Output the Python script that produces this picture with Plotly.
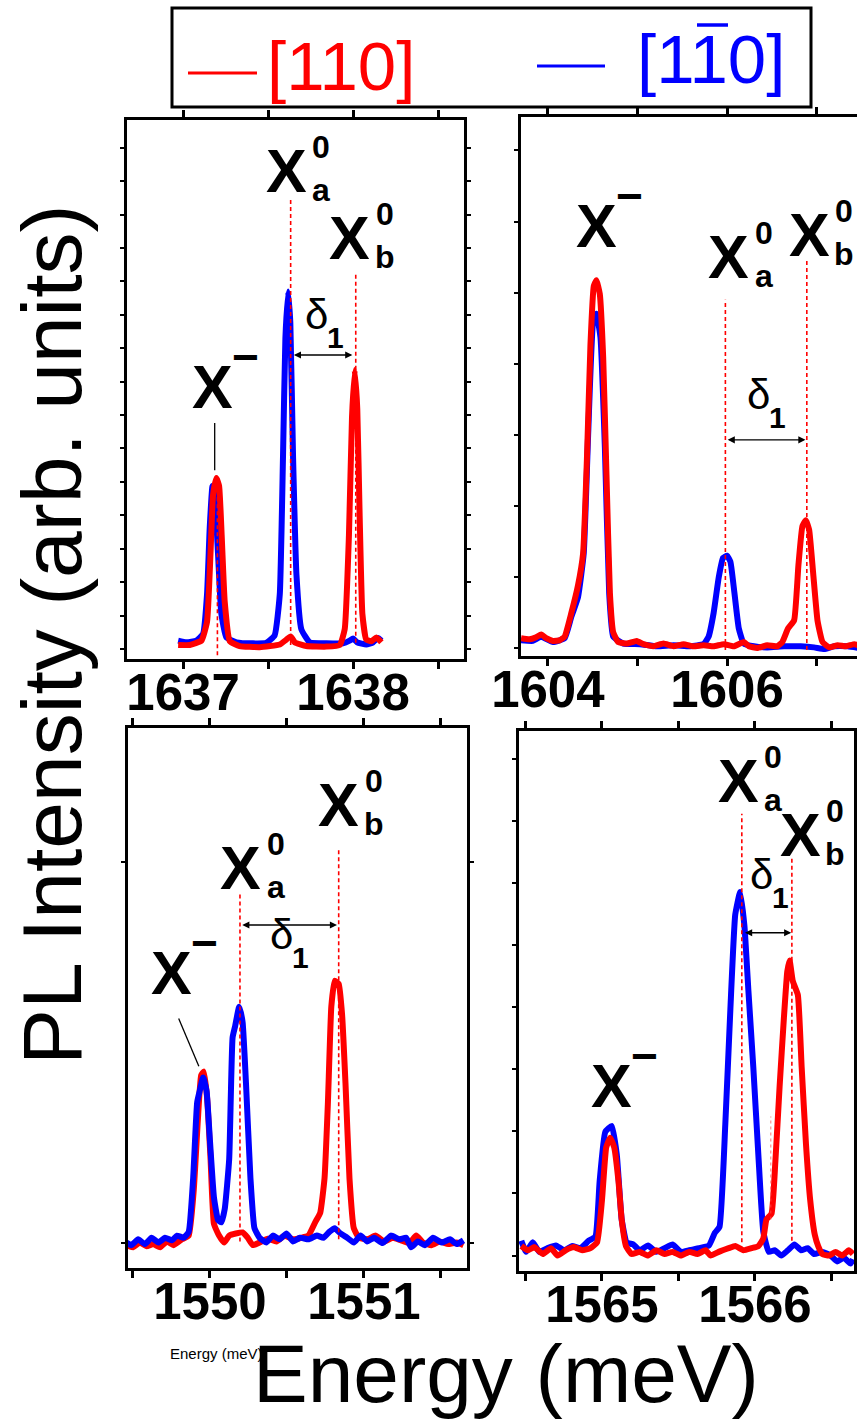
import plotly.graph_objects as go

W, H = 857, 1420
RED, BLUE = "#ff0000", "#0000ff"
SANS = "Liberation Sans, Arial, Helvetica, sans-serif"

# ---------------------------------------------------------------------------
# PL spectra: photon energy (meV) and intensity (arb. units) for the two
# linear polarisations [110] (red) and [1-10] (blue)
# ---------------------------------------------------------------------------

# dot A (1637-1638 meV)
A_E_110 = [1636.971, 1637.039, 1637.108, 1637.141, 1637.161, 1637.176, 1637.196, 1637.212,
           1637.227, 1637.245, 1637.275, 1637.333, 1637.451, 1637.569, 1637.608, 1637.633,
           1637.657, 1637.725, 1637.843, 1637.922, 1637.951, 1637.976, 1637.994, 1638.010,
           1638.025, 1638.039, 1638.055, 1638.078, 1638.108, 1638.137, 1638.167]
A_I_110 = [2.6, 2.6, 3.4, 6.9, 19.3, 30.3, 33.6, 32.1,
           23.0, 10.6, 3.3, 2.4, 2.2, 2.7, 3.6, 4.2,
           3.1, 2.4, 2.3, 2.6, 5.5, 23.0, 44.9, 53.6,
           46.4, 26.6, 8.4, 3.6, 3.3, 4.0, 3.1]
A_E_1M10 = [1636.971, 1637.020, 1637.078, 1637.118, 1637.141, 1637.157, 1637.173, 1637.186,
            1637.206, 1637.225, 1637.255, 1637.314, 1637.412, 1637.490, 1637.539, 1637.569,
            1637.588, 1637.602, 1637.618, 1637.631, 1637.647, 1637.667, 1637.696, 1637.745,
            1637.843, 1637.941, 1637.980, 1638.000, 1638.024, 1638.078, 1638.118, 1638.147,
            1638.167]
A_I_1M10 = [3.4, 3.1, 3.4, 4.7, 12.0, 24.5, 32.1, 30.3,
            19.3, 8.4, 4.0, 3.1, 2.9, 3.0, 4.4, 12.0,
            37.6, 59.5, 68.2, 62.4, 37.6, 15.7, 5.5, 3.1,
            2.9, 2.9, 3.4, 3.8, 3.1, 2.7, 3.1, 3.9,
            3.4]

# dot B (1604-1607 meV)
B_E_110 = [1603.701, 1603.794, 1603.869, 1603.925, 1603.981, 1604.056, 1604.131, 1604.187,
           1604.262, 1604.336, 1604.393, 1604.437, 1604.475, 1604.512, 1604.542, 1604.579,
           1604.617, 1604.654, 1604.692, 1604.729, 1604.785, 1604.879, 1604.991, 1605.065,
           1605.178, 1605.290, 1605.402, 1605.514, 1605.626, 1605.738, 1605.850, 1605.963,
           1606.075, 1606.187, 1606.243, 1606.336, 1606.449, 1606.561, 1606.617, 1606.680,
           1606.748, 1606.796, 1606.841, 1606.879, 1606.916, 1606.961, 1607.009, 1607.065,
           1607.140, 1607.234, 1607.327, 1607.421, 1607.462]
B_I_110 = [3.3, 3.1, 3.5, 4.0, 3.3, 2.8, 2.9, 3.6,
           8.0, 13.1, 19.0, 37.2, 57.7, 68.6, 69.7, 67.2,
           55.5, 33.6, 11.7, 4.4, 2.6, 2.3, 2.8, 2.2,
           1.8, 2.3, 1.8, 2.2, 1.8, 2.0, 1.8, 2.2,
           1.8, 2.6, 1.8, 1.5, 2.0, 1.8, 2.6, 5.1,
           6.6, 16.8, 24.1, 25.2, 23.4, 15.3, 6.6, 2.6,
           1.6, 2.0, 1.8, 2.2, 2.0]
B_E_1M10 = [1603.701, 1603.832, 1603.925, 1604.056, 1604.187, 1604.262, 1604.336, 1604.400,
            1604.449, 1604.505, 1604.542, 1604.587, 1604.636, 1604.684, 1604.729, 1604.841,
            1605.028, 1605.215, 1605.402, 1605.589, 1605.738, 1605.794, 1605.850, 1605.907,
            1605.955, 1606.000, 1606.037, 1606.082, 1606.131, 1606.187, 1606.299, 1606.449,
            1606.636, 1606.822, 1606.972, 1607.084, 1607.196, 1607.346, 1607.462]
B_I_1M10 = [2.9, 2.8, 3.6, 2.6, 3.3, 7.3, 10.9, 19.0,
            40.9, 62.0, 63.5, 59.1, 38.7, 11.7, 3.6, 2.3,
            2.2, 1.8, 2.0, 1.8, 2.2, 3.6, 8.0, 14.6,
            18.2, 18.6, 17.5, 11.7, 5.1, 2.3, 1.8, 1.6,
            1.8, 1.8, 1.6, 1.3, 1.8, 1.8, 1.5]

# dot C (1550-1551 meV)
C_E_110 = [1549.457, 1549.501, 1549.545, 1549.589, 1549.632, 1549.676, 1549.720, 1549.764,
           1549.818, 1549.862, 1549.895, 1549.921, 1549.943, 1549.961, 1549.982, 1550.004,
           1550.026, 1550.059, 1550.092, 1550.125, 1550.168, 1550.212, 1550.245, 1550.278,
           1550.322, 1550.376, 1550.431, 1550.486, 1550.540, 1550.595, 1550.639, 1550.683,
           1550.716, 1550.744, 1550.766, 1550.788, 1550.810, 1550.836, 1550.858, 1550.880,
           1550.906, 1550.934, 1550.967, 1551.022, 1551.077, 1551.131, 1551.186, 1551.241,
           1551.295, 1551.339, 1551.383, 1551.438, 1551.492, 1551.547, 1551.602, 1551.646]
C_I_110 = [4.3, 3.9, 4.8, 4.1, 4.5, 3.9, 5.0, 4.3,
           5.4, 6.1, 14.7, 27.6, 36.3, 37.0, 31.9, 20.5,
           8.3, 6.1, 4.8, 6.1, 6.5, 6.7, 5.7, 4.3,
           4.8, 5.5, 5.0, 6.1, 5.4, 5.7, 6.1, 8.6,
           10.4, 16.9, 31.2, 49.2, 54.1, 53.5, 47.7, 34.8,
           16.9, 7.5, 5.7, 5.4, 6.1, 5.0, 5.7, 5.2,
           4.7, 6.1, 4.8, 4.3, 5.0, 4.5, 4.8, 4.3]
C_E_1M10 = [1549.457, 1549.490, 1549.534, 1549.578, 1549.621, 1549.665, 1549.709, 1549.753,
            1549.786, 1549.829, 1549.862, 1549.891, 1549.917, 1549.934, 1549.956, 1549.978,
            1550.000, 1550.026, 1550.053, 1550.074, 1550.096, 1550.125, 1550.147, 1550.164,
            1550.190, 1550.212, 1550.234, 1550.263, 1550.289, 1550.322, 1550.365, 1550.409,
            1550.453, 1550.497, 1550.540, 1550.584, 1550.639, 1550.694, 1550.737, 1550.775,
            1550.810, 1550.847, 1550.891, 1550.934, 1550.978, 1551.022, 1551.066, 1551.120,
            1551.175, 1551.230, 1551.274, 1551.306, 1551.350, 1551.394, 1551.449, 1551.504,
            1551.558, 1551.602, 1551.646]
C_I_1M10 = [4.8, 4.3, 5.4, 4.5, 5.7, 4.8, 5.7, 5.2,
            6.1, 5.7, 6.8, 16.9, 31.2, 33.4, 35.9, 33.4,
            24.0, 13.3, 9.0, 8.6, 11.1, 20.5, 43.4, 45.6,
            49.2, 46.3, 34.8, 16.9, 7.5, 5.7, 4.8, 6.1,
            5.4, 6.5, 5.0, 5.7, 5.4, 6.1, 5.7, 6.8,
            7.5, 6.5, 5.7, 4.8, 6.1, 5.0, 5.7, 4.7,
            6.1, 5.4, 5.7, 3.9, 5.0, 4.3, 5.7, 4.8,
            5.4, 4.5, 5.2]

# dot D (1565-1566 meV)
D_E_110 = [1564.473, 1564.516, 1564.559, 1564.613, 1564.667, 1564.710, 1564.763, 1564.817,
           1564.871, 1564.925, 1564.968, 1565.000, 1565.028, 1565.054, 1565.080, 1565.108,
           1565.129, 1565.157, 1565.194, 1565.247, 1565.301, 1565.355, 1565.409, 1565.462,
           1565.516, 1565.570, 1565.624, 1565.677, 1565.710, 1565.763, 1565.828, 1565.871,
           1565.925, 1565.978, 1566.022, 1566.054, 1566.075, 1566.108, 1566.133, 1566.161,
           1566.189, 1566.211, 1566.226, 1566.247, 1566.280, 1566.305, 1566.333, 1566.361,
           1566.391, 1566.413, 1566.441, 1566.484, 1566.527, 1566.570, 1566.613, 1566.640]
D_I_110 = [4.7, 3.9, 4.5, 3.2, 4.3, 2.9, 3.9, 4.5,
           3.9, 4.3, 5.4, 13.3, 23.3, 25.1, 23.3, 16.9,
           9.7, 4.7, 3.2, 3.6, 2.9, 3.9, 3.2, 3.6,
           2.9, 3.6, 3.2, 3.9, 2.9, 3.6, 4.3, 4.7,
           3.9, 4.3, 4.7, 6.1, 9.7, 10.8, 20.5, 34.8,
           47.7, 56.4, 58.5, 54.6, 52.0, 38.4, 24.0, 13.3,
           6.8, 4.7, 3.2, 2.9, 3.6, 2.9, 3.9, 3.2]
D_E_1M10 = [1564.473, 1564.505, 1564.548, 1564.591, 1564.645, 1564.699, 1564.753, 1564.806,
            1564.860, 1564.914, 1564.957, 1564.985, 1565.022, 1565.065, 1565.097, 1565.129,
            1565.161, 1565.204, 1565.247, 1565.301, 1565.355, 1565.409, 1565.462, 1565.516,
            1565.570, 1565.634, 1565.699, 1565.738, 1565.768, 1565.806, 1565.839, 1565.871,
            1565.903, 1565.931, 1565.957, 1565.989, 1566.022, 1566.054, 1566.090, 1566.129,
            1566.172, 1566.215, 1566.258, 1566.301, 1566.344, 1566.387, 1566.441, 1566.495,
            1566.538, 1566.581, 1566.624, 1566.640]
D_I_1M10 = [5.7, 3.6, 5.4, 3.6, 4.3, 4.8, 3.9, 4.7,
            4.3, 5.7, 6.5, 16.9, 26.2, 27.3, 21.9, 9.7,
            5.4, 5.0, 3.9, 4.8, 3.6, 4.3, 5.0, 3.6,
            3.9, 4.3, 4.8, 7.2, 8.3, 27.6, 49.2, 67.1,
            71.4, 65.0, 52.8, 38.4, 21.9, 7.5, 3.6, 3.9,
            2.9, 3.9, 5.0, 3.9, 4.3, 3.2, 3.6, 2.9,
            1.8, 2.5, 1.4, 2.2]

# ---------------------------------------------------------------------------
# Peak assignments: guide lines, labels and the splitting delta_1
# ---------------------------------------------------------------------------
A_GUIDE_E, A_GUIDE_TOP, A_GUIDE_BOT = [1637.202, 1637.633, 1638.016], [30.0, 85.4, 71.5], [0.7, 2.6, 3.0]
A_LABEL_E, A_LABEL_I = [1637.176, 1637.608, 1637.980], [50.4, 90.5, 78.1]
A_SPLIT = [1637.643, 1637.996, 56.4]
A_DELTA_AT = [1637.784, 64.0]
A_LEADER = [1637.186, 43.8, 1637.186, 35.0]

B_GUIDE_E, B_GUIDE_TOP, B_GUIDE_BOT = [1605.981, 1606.890], [66.1, 73.4], [1.1, 1.1]
B_LABEL_E, B_LABEL_I = [1604.542, 1606.020, 1606.916], [79.7, 74.1, 78.1]
B_SPLIT = [1605.990, 1606.875, 40.1]
B_DELTA_AT = [1606.355, 48.5]
B_LEADER = []

C_GUIDE_E, C_GUIDE_TOP, C_GUIDE_BOT = [1550.195, 1550.836], [70.7, 79.0], [5.0, 5.4]
C_LABEL_E, C_LABEL_I = [1549.753, 1550.200, 1550.836], [55.6, 75.4, 87.2]
C_SPLIT = [1550.200, 1550.825, 64.6]
C_DELTA_AT = [1550.464, 62.8]
C_LEADER = [1549.797, 47.0, 1549.928, 38.0]

D_GUIDE_E, D_GUIDE_TOP, D_GUIDE_BOT = [1565.914, 1566.241], [86.1, 77.9], [5.4, 5.7]
D_FAINT_E, D_FAINT_TOP, D_FAINT_BOT = [1566.103], [29.1], [9.7]
D_LABEL_E, D_LABEL_I = [1565.065, 1565.892, 1566.295], [34.8, 92.2, 82.2]
D_SPLIT = [1565.925, 1566.237, 63.7]
D_DELTA_AT = [1566.043, 74.7]
D_LEADER = []

LABEL_SUP = ["\u2212", "0", "0"]
LABEL_SUB = ["", "a", "b"]

# x-axis ranges and labelled ticks
A_XRANGE, A_XTICKS = [1636.67, 1638.653], [1637, 1638]
B_XRANGE, B_XTICKS = [1603.70, 1607.45], [1604, 1606]
C_XRANGE, C_XTICKS = [1549.468, 1551.669], [1550, 1551]
D_XRANGE, D_XTICKS = [1564.458, 1566.647], [1565, 1566]

fig = go.Figure()


def px_x(p):
    return p / W


def px_y(p):
    return 1 - p / H


def note(**kw):
    kw.setdefault("xanchor", "center")
    kw.setdefault("yanchor", "middle")
    kw.setdefault("showarrow", False)
    return kw


panels = [
    dict(ax="", dom_x=(127, 464), dom_y=(120, 659), yr=[0, 100], xr=A_XRANGE, xt=A_XTICKS, minor=0.5,
         ytick0=1.86, ydtick=6.2, right=True,
         e110=A_E_110, i110=A_I_110, e1m10=A_E_1M10, i1m10=A_I_1M10, red_on_top=True,
         guide=(A_GUIDE_E, A_GUIDE_TOP, A_GUIDE_BOT), label=(A_LABEL_E, A_LABEL_I, LABEL_SUP, LABEL_SUB),
         split=A_SPLIT, delta=A_DELTA_AT, leader=A_LEADER),
    dict(ax="2", dom_x=(521, 857), dom_y=(117, 656), yr=[0, 100], xr=B_XRANGE, xt=B_XTICKS, minor=1,
         ytick0=1.4, ydtick=13.2, right=False,
         e110=B_E_110, i110=B_I_110, e1m10=B_E_1M10, i1m10=B_I_1M10, red_on_top=True,
         guide=(B_GUIDE_E, B_GUIDE_TOP, B_GUIDE_BOT), label=(B_LABEL_E, B_LABEL_I, LABEL_SUP, LABEL_SUB),
         split=B_SPLIT, delta=B_DELTA_AT, leader=B_LEADER),
    dict(ax="3", dom_x=(128, 467), dom_y=(728, 1268), yr=[0, 101.7], xr=C_XRANGE, xt=C_XTICKS, minor=0.5,
         ytick0=4.7, ydtick=71.8, right=True,
         e110=C_E_110, i110=C_I_110, e1m10=C_E_1M10, i1m10=C_I_1M10, red_on_top=False,
         guide=(C_GUIDE_E, C_GUIDE_TOP, C_GUIDE_BOT), label=(C_LABEL_E, C_LABEL_I, LABEL_SUP, LABEL_SUB),
         split=C_SPLIT, delta=C_DELTA_AT, leader=C_LEADER),
    dict(ax="4", dom_x=(519, 854), dom_y=(731, 1271), yr=[0, 101.7], xr=D_XRANGE, xt=D_XTICKS, minor=0.5,
         ytick0=2.9, ydtick=11.7, right=True,
         e110=D_E_110, i110=D_I_110, e1m10=D_E_1M10, i1m10=D_I_1M10, red_on_top=True,
         guide=(D_GUIDE_E, D_GUIDE_TOP, D_GUIDE_BOT), label=(D_LABEL_E, D_LABEL_I, LABEL_SUP, LABEL_SUB),
         split=D_SPLIT, delta=D_DELTA_AT, leader=D_LEADER),
]

shapes, annotations = [], []
layout_axes = {}

for p in panels:
    xa, ya = "x" + p["ax"], "y" + p["ax"]
    red = go.Scatter(x=p["e110"], y=p["i110"], mode="lines",
                     line=dict(color=RED, width=6, shape="spline", smoothing=0.4),
                     xaxis=xa, yaxis=ya, showlegend=False, hoverinfo="skip")
    blue = go.Scatter(x=p["e1m10"], y=p["i1m10"], mode="lines",
                      line=dict(color=BLUE, width=6, shape="spline", smoothing=0.4),
                      xaxis=xa, yaxis=ya, showlegend=False, hoverinfo="skip")
    for tr in ([blue, red] if p["red_on_top"] else [red, blue]):
        fig.add_trace(tr)

    # axes
    layout_axes["xaxis" + p["ax"]] = dict(
        domain=[px_x(p["dom_x"][0]), px_x(p["dom_x"][1])], anchor=ya, range=p["xr"],
        tickmode="array", tickvals=p["xt"], ticktext=[str(v) for v in p["xt"]],
        ticks="outside", ticklen=7, tickwidth=3, tickcolor="black",
        minor=dict(dtick=p["minor"], tick0=p["xt"][0], ticks="outside", ticklen=7, tickwidth=3,
                   tickcolor="black", showgrid=False),
        showline=True, linewidth=3, linecolor="black", mirror="ticks",
        showgrid=False, zeroline=False, automargin=False, ticklabelstandoff=-20,
        tickfont=dict(family=SANS, size=51, color="black", weight="bold"),
    )
    layout_axes["yaxis" + p["ax"]] = dict(
        domain=[px_y(p["dom_y"][1]), px_y(p["dom_y"][0])], anchor=xa, range=p["yr"],
        tickmode="linear", tick0=p["ytick0"], dtick=p["ydtick"], showticklabels=False,
        ticks="outside", ticklen=4, tickwidth=2, tickcolor="black",
        showline=True, linewidth=3, linecolor="black", mirror="ticks" if p["right"] else False,
        showgrid=False, zeroline=False, automargin=False,
    )

    # dashed guides from labels to peaks
    ge, gt, gb = p["guide"]
    for e, t, b in zip(ge, gt, gb):
        shapes.append(dict(type="line", xref=xa, yref=ya, x0=e, x1=e, y0=b, y1=t,
                           line=dict(color=RED, width=1.6, dash="4px,3px")))

    # peak labels X^-, X_a^0, X_b^0
    le, li, lsup, lsub = p["label"]
    for e, v, sup, sub in zip(le, li, lsup, lsub):
        annotations.append(note(x=e, y=v, xref=xa, yref=ya, text="<b>X</b>",
                                font=dict(family=SANS, size=61, color="black")))
        if sup == "\u2212":
            annotations.append(note(x=e, y=v, xref=xa, yref=ya, text="<b>\u2212</b>",
                                    xshift=33, yshift=30, font=dict(family=SANS, size=46, color="black")))
        else:
            annotations.append(note(x=e, y=v, xref=xa, yref=ya, text="<b>%s</b>" % sup,
                                    xshift=35, yshift=24, font=dict(family=SANS, size=32, color="black")))
            annotations.append(note(x=e, y=v, xref=xa, yref=ya, text="<b>%s</b>" % sub,
                                    xshift=35, yshift=-19, font=dict(family=SANS, size=32, color="black")))

    # splitting arrow delta_1
    e0, e1, lvl = p["split"]
    annotations.append(dict(x=e1, y=lvl, ax=e0, ay=lvl, xref=xa, yref=ya, axref=xa, ayref=ya,
                            text="", showarrow=True, arrowhead=2, arrowside="end+start",
                            arrowsize=1.1, arrowwidth=1.3, arrowcolor="black", standoff=0, startstandoff=0))
    dx, dy = p["delta"]
    annotations.append(note(x=dx, y=dy, xref=xa, yref=ya, text="\u03b4",
                            font=dict(family=SANS, size=42, color="black")))
    annotations.append(note(x=dx, y=dy, xref=xa, yref=ya, text="<b>1</b>",
                            xshift=19, yshift=-23, font=dict(family=SANS, size=30, color="black")))

    # leader line from X^- label to its peak
    if p["leader"]:
        x0, y0, x1, y1 = p["leader"]
        shapes.append(dict(type="line", xref=xa, yref=ya, x0=x0, y0=y0, x1=x1, y1=y1,
                           line=dict(color="black", width=1.3)))

# faint extra guide in dot D
for e, t, b in zip(D_FAINT_E, D_FAINT_TOP, D_FAINT_BOT):
    shapes.append(dict(type="line", xref="x4", yref="y4", x0=e, x1=e, y0=b, y1=t,
                       line=dict(color="rgba(255,80,80,0.6)", width=1.3, dash="3px,3px")))

# ---------------------------------------------------------------------------
# polarisation key
# ---------------------------------------------------------------------------
shapes.append(dict(type="rect", xref="paper", yref="paper", x0=px_x(172), x1=px_x(811),
                   y0=px_y(107), y1=px_y(8), line=dict(color="black", width=3), fillcolor="white",
                   layer="below"))
shapes.append(dict(type="line", xref="paper", yref="paper", x0=px_x(188), x1=px_x(257),
                   y0=px_y(73), y1=px_y(73), line=dict(color=RED, width=3)))
shapes.append(dict(type="line", xref="paper", yref="paper", x0=px_x(537), x1=px_x(605),
                   y0=px_y(66), y1=px_y(66), line=dict(color=BLUE, width=3)))
shapes.append(dict(type="line", xref="paper", yref="paper", x0=px_x(697), x1=px_x(728),
                   y0=px_y(25), y1=px_y(25), line=dict(color=BLUE, width=3.5)))
annotations.append(note(x=px_x(341), y=px_y(66), xref="paper", yref="paper", text="[110]",
                        font=dict(family=SANS, size=69, color=RED)))
annotations.append(note(x=px_x(711), y=px_y(60), xref="paper", yref="paper", text="[110]",
                        font=dict(family=SANS, size=69, color=BLUE)))

# common axis titles
annotations.append(note(x=px_x(52), y=px_y(635), xref="paper", yref="paper",
                        text="PL Intensity (arb. units)", textangle=-90,
                        font=dict(family=SANS, size=84, color="black")))
annotations.append(note(x=px_x(168), y=px_y(1353), xref="paper", yref="paper", xanchor="left",
                        text="Energy (meV)", font=dict(family=SANS, size=15, color="black")))
annotations.append(note(x=px_x(506), y=px_y(1373), xref="paper", yref="paper",
                        text="Energy (meV)", font=dict(family=SANS, size=82, color="black")))

fig.update_layout(
    width=W, height=H, margin=dict(l=0, r=0, t=0, b=0, pad=0, autoexpand=False),
    paper_bgcolor="white", plot_bgcolor="white",
    shapes=shapes, annotations=annotations, showlegend=False,
    **layout_axes,
)

fig.write_html("out.html")
